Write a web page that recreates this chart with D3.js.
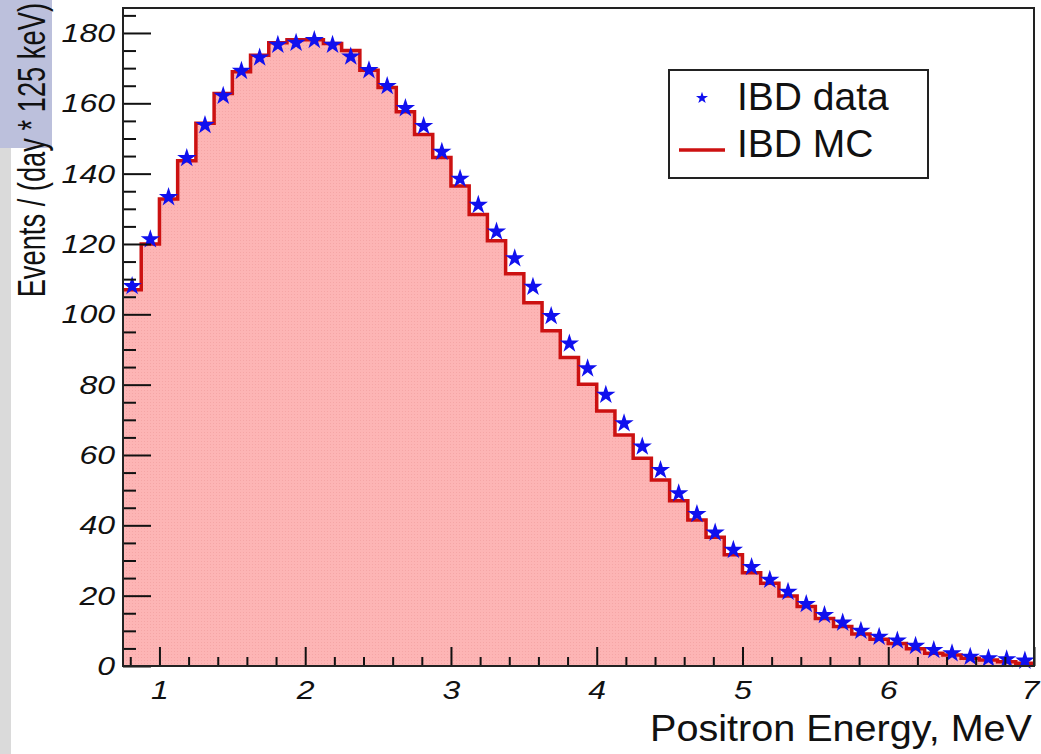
<!DOCTYPE html>
<html>
<head>
<meta charset="utf-8">
<script src="https://cdn.jsdelivr.net/npm/d3@7"></script>
<style>
  body { margin: 0; background: #fff; }
  svg { display: block; }
</style>
</head>
<body>
<div id="chart"></div>
<script>
// bin low edges (MeV), 125 keV bins
let binLow = [0.75, 0.875, 1.0, 1.125, 1.25, 1.375, 1.5, 1.625, 1.75, 1.875,
              2.0, 2.125, 2.25, 2.375, 2.5, 2.625, 2.75, 2.875, 3.0, 3.125,
              3.25, 3.375, 3.5, 3.625, 3.75, 3.875, 4.0, 4.125, 4.25, 4.375,
              4.5, 4.625, 4.75, 4.875, 5.0, 5.125, 5.25, 5.375, 5.5, 5.625,
              5.75, 5.875, 6.0, 6.125, 6.25, 6.375, 6.5, 6.625, 6.75, 6.875];
let binWidth = 0.125;

// IBD MC histogram
let mcValues = [107, 120, 132.8, 143.7, 154.3, 162.8, 169, 173.7, 177.2, 178.1,
                178.1, 177, 175, 169.4, 164.5, 157.6, 151.1, 144.6, 136.5, 128.4,
                120.9, 111.5, 103.3, 95.3, 87.7, 80.1, 72.5, 65.7, 59.1, 52.9,
                47, 41.5, 36.6, 31.6, 26.5, 23.5, 19.9, 16.9, 13.5, 11.2,
                9.1, 7.6, 6.4, 4.9, 3.6, 3.1, 2.2, 1.7, 1.2, 0.8];

// IBD data points
let dataValues = [108, 121.3, 133.3, 144.4, 153.8, 162.1, 169.2, 173, 176.6, 177.2,
                  178, 176.6, 173.3, 169.4, 164.9, 158.6, 153.5, 146.2, 138.5, 131.1,
                  123.5, 115.9, 107.8, 99.5, 91.7, 84.6, 77.1, 69, 62.4, 55.7,
                  49.1, 43.2, 37.9, 33, 28.1, 24.5, 21.1, 17.6, 14.5, 12.3,
                  10, 8.3, 7.2, 5.7, 4.5, 3.6, 2.6, 2.2, 1.9, 1.5];

let xTicks = [1, 2, 3, 4, 5, 6, 7];
let xMinor = [0.8, 1.2, 1.4, 1.6, 1.8, 2.2, 2.4, 2.6, 2.8, 3.2, 3.4, 3.6, 3.8,
              4.2, 4.4, 4.6, 4.8, 5.2, 5.4, 5.6, 5.8, 6.2, 6.4, 6.6, 6.8];
let yTicks = [0, 20, 40, 60, 80, 100, 120, 140, 160, 180];
let yMinor = [5, 10, 15, 25, 30, 35, 45, 50, 55, 65, 70, 75, 85, 90, 95, 105, 110, 115,
              125, 130, 135, 145, 150, 155, 165, 170, 175, 185];

let W = 1041, H = 754;
let margin = { left: 123, right: 1034, top: 8, bottom: 666 };
let font = "'Liberation Sans', Arial, Helvetica, sans-serif";

let svg = d3.select('#chart').append('svg')
  .attr('width', W).attr('height', H);

// slide background remnants on the left
svg.append('rect').attr('x', 0).attr('y', 0).attr('width', 52).attr('height', 148).attr('fill', '#bcc0dc');
svg.append('rect').attr('x', 0).attr('y', 148).attr('width', 11).attr('height', H - 148).attr('fill', '#dadada');

let x = d3.scaleLinear().domain([0.75, 7]).range([margin.left, margin.right]);
let y = d3.scaleLinear().domain([0, 187.1]).range([margin.bottom, margin.top]);

// fill texture
let defs = svg.append('defs');
let pat = defs.append('pattern').attr('id', 'pinkfill')
  .attr('width', 3).attr('height', 3).attr('patternUnits', 'userSpaceOnUse');
pat.append('rect').attr('width', 3).attr('height', 3).attr('fill', '#fdb5b5');
pat.append('rect').attr('width', 1).attr('height', 1).attr('fill', '#f5a6a6');

// step points for the MC histogram
let steps = binLow.map((b, i) => [b, mcValues[i]]);
steps.push([binLow[binLow.length - 1] + binWidth, mcValues[mcValues.length - 1]]);

svg.append('path')
  .datum(steps)
  .attr('fill', 'url(#pinkfill)')
  .attr('d', d3.area().curve(d3.curveStepAfter)
    .x(d => x(d[0])).y0(y(0)).y1(d => y(d[1])));

svg.append('path')
  .datum(steps)
  .attr('fill', 'none')
  .attr('stroke', '#cc1111')
  .attr('stroke-width', 3.5)
  .attr('d', d3.line().curve(d3.curveStepAfter)
    .x(d => x(d[0])).y(d => y(d[1])));

// data stars
let star = d3.symbol().type(d3.symbolStar).size(115);
svg.selectAll('.pt')
  .data(dataValues)
  .enter().append('path')
  .attr('class', 'pt')
  .attr('d', star)
  .attr('fill', '#1010ee')
  .attr('transform', (d, i) => 'translate(' + x(binLow[i] + binWidth / 2) + ',' + y(d) + ')');

// axes: ROOT style, ticks inside the frame
function styleLabels(g) {
  g.select('.domain').remove();
  g.selectAll('line').attr('stroke', '#111').attr('stroke-width', 2);
  g.selectAll('text')
    .attr('fill', '#111')
    .style('font-family', font)
    .style('font-style', 'italic')
    .style('font-size', '32px')
    .attr('transform', 'scale(1,0.82)');
}

svg.append('g')
  .attr('transform', 'translate(0,' + margin.bottom + ')')
  .call(d3.axisBottom(x).tickValues(xMinor).tickFormat('').tickSizeInner(-9).tickSizeOuter(0))
  .call(styleLabels);

svg.append('g')
  .attr('transform', 'translate(0,' + margin.bottom + ')')
  .call(d3.axisBottom(x).tickValues(xTicks).tickFormat(d3.format('d')).tickSizeInner(-19).tickSizeOuter(0))
  .call(styleLabels)
  .call(g => g.selectAll('text').attr('y', 40.5).attr('dy', 0)
    .attr('x', d => d === 7 ? -4 : 0));

svg.append('g')
  .attr('transform', 'translate(' + margin.left + ',0)')
  .call(d3.axisLeft(y).tickValues(yMinor).tickFormat('').tickSizeInner(-13).tickSizeOuter(0))
  .call(styleLabels);

svg.append('g')
  .attr('transform', 'translate(' + margin.left + ',0)')
  .call(d3.axisLeft(y).tickValues(yTicks).tickFormat(d3.format('d')).tickSizeInner(-28).tickSizeOuter(0).tickPadding(8))
  .call(styleLabels);

// frame
svg.append('rect')
  .attr('x', margin.left).attr('y', margin.top)
  .attr('width', margin.right - margin.left).attr('height', margin.bottom - margin.top)
  .attr('fill', 'none').attr('stroke', '#222').attr('stroke-width', 2);

// axis titles
svg.append('text')
  .attr('transform', 'translate(1032,741) scale(1.07,1)')
  .attr('text-anchor', 'end')
  .style('font-family', font).style('font-size', '37px')
  .attr('fill', '#111')
  .text('Positron Energy, MeV');

svg.append('text')
  .attr('transform', 'translate(45,3) rotate(-90) scale(0.7,1)')
  .attr('text-anchor', 'end')
  .style('font-family', font).style('font-size', '39px')
  .attr('fill', '#111')
  .text('Events / (day * 125 keV)');

// legend
let legend = svg.append('g');
legend.append('rect')
  .attr('x', 669).attr('y', 70).attr('width', 259).attr('height', 108)
  .attr('fill', '#fff').attr('stroke', '#222').attr('stroke-width', 2);
legend.append('path')
  .attr('d', d3.symbol().type(d3.symbolStar).size(45))
  .attr('fill', '#1010ee')
  .attr('transform', 'translate(702,98)');
legend.append('line')
  .attr('x1', 679).attr('x2', 725).attr('y1', 150).attr('y2', 150)
  .attr('stroke', '#cc1111').attr('stroke-width', 3.5);
legend.append('text')
  .attr('x', 737).attr('y', 110)
  .style('font-family', font).style('font-size', '39px').attr('fill', '#111')
  .text('IBD data');
legend.append('text')
  .attr('x', 737).attr('y', 157)
  .style('font-family', font).style('font-size', '39px').attr('fill', '#111')
  .text('IBD MC');
</script>
</body>
</html>
